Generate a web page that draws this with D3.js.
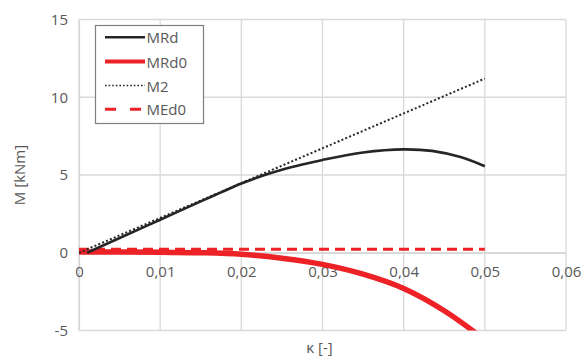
<!DOCTYPE html>
<html>
<head>
<meta charset="utf-8">
<script src="https://cdn.jsdelivr.net/npm/d3@7"></script>
<style>
  html, body { margin: 0; padding: 0; background: #fff; }
  svg { display: block; font-family: "Open Sans", "DejaVu Sans", sans-serif; }
</style>
</head>
<body>
<svg id="chart" width="584" height="359"></svg>
<script>
// Curvature values (κ) and moments (kNm) for each series
const kappaMRd = [0.001, 0.005, 0.01, 0.015, 0.0175, 0.02, 0.0225, 0.025, 0.0275, 0.03, 0.035, 0.04, 0.0435, 0.047, 0.05];
const valuesMRd = [0, 0.95, 2.12, 3.3, 3.88, 4.45, 4.93, 5.33, 5.67, 5.97, 6.45, 6.65, 6.55, 6.15, 5.56];

const kappaMRd0 = [0, 0.005, 0.01, 0.015, 0.02, 0.025, 0.03, 0.035, 0.04, 0.045, 0.05];
const valuesMRd0 = [0.05, 0.05, 0.04, 0, -0.1, -0.35, -0.75, -1.38, -2.3, -3.73, -5.6];

const kappaM2 = [0, 0.05];
const valuesM2 = [0, 11.2];

const kappaMEd0 = [0, 0.05];
const valuesMEd0 = [0.22, 0.22];

const xTicks = [0, 0.01, 0.02, 0.03, 0.04, 0.05, 0.06];
const xTickLabels = ["0", "0,01", "0,02", "0,03", "0,04", "0,05", "0,06"];
const yTicks = [-5, 0, 5, 10, 15];

const seriesNames = ["MRd", "MRd0", "M2", "MEd0"];

const svg = d3.select("#chart");
const plotLeft = 79, plotRight = 566, plotTop = 19.5, plotBottom = 330.5;

const x = d3.scaleLinear().domain([0, 0.06]).range([plotLeft, plotRight]);
const y = d3.scaleLinear().domain([-5, 15]).range([plotBottom, plotTop]);

const grid = "#d9d9d9";
const textCol = "#595959";
const red = "#ec2227";
const black = "#262626";
const fontSize = "15px";

// Gridlines
svg.append("g").selectAll("line").data(yTicks).join("line")
  .attr("x1", plotLeft).attr("x2", plotRight)
  .attr("y1", d => y(d)).attr("y2", d => y(d))
  .attr("stroke", grid).attr("stroke-width", 1.3);
svg.append("g").selectAll("line").data(xTicks).join("line")
  .attr("x1", d => x(d)).attr("x2", d => x(d))
  .attr("y1", plotTop).attr("y2", plotBottom)
  .attr("stroke", grid).attr("stroke-width", 1.3);

// Y axis labels
const yAxis = d3.axisLeft(y).tickValues(yTicks).tickSize(0).tickPadding(11)
  .tickFormat(d => d < 0 ? "-" + Math.abs(d) : String(d));
const gy = svg.append("g").attr("transform", `translate(${plotLeft},0)`).call(yAxis);
gy.select(".domain").attr("stroke", grid).attr("stroke-width", 1.3);
gy.selectAll("text").attr("fill", textCol).style("font-size", fontSize)
  .style("font-family", "'Open Sans', sans-serif");

// X axis labels placed under the zero line
const xAxis = d3.axisBottom(x).tickValues(xTicks).tickSize(0).tickPadding(14)
  .tickFormat((d, i) => xTickLabels[i]);
const gx = svg.append("g").attr("transform", `translate(0,${y(0)})`).call(xAxis);
gx.select(".domain").attr("stroke", grid).attr("stroke-width", 1.3);
gx.selectAll("text").attr("fill", textCol).style("font-size", fontSize)
  .style("font-family", "'Open Sans', sans-serif");

// Axis titles
svg.append("text")
  .attr("transform", `translate(19,${(plotTop + plotBottom) / 2}) rotate(-90)`)
  .attr("text-anchor", "middle").attr("dominant-baseline", "central")
  .attr("fill", textCol).style("font-size", fontSize).text("M [kNm]");
svg.append("text")
  .attr("x", (plotLeft + plotRight) / 2 - 3).attr("y", 353)
  .attr("text-anchor", "middle")
  .attr("fill", textCol).style("font-size", fontSize).text("κ [-]");

// Clip series to the plot area
svg.append("defs").append("clipPath").attr("id", "plotClip")
  .append("rect").attr("x", plotLeft).attr("y", plotTop)
  .attr("width", plotRight - plotLeft).attr("height", plotBottom - plotTop);

const plot = svg.append("g").attr("clip-path", "url(#plotClip)");

function toPoints(ks, vs) { return ks.map((k, i) => [k, vs[i]]); }
const line = d3.line().x(d => x(d[0])).y(d => y(d[1])).curve(d3.curveCatmullRom.alpha(0.5));

const styles = {
  MRd:  { color: black, width: 2.6, dash: null },
  MRd0: { color: red,   width: 5.5, dash: null },
  M2:   { color: black, width: 2,   dash: "2,2.2" },
  MEd0: { color: red,   width: 3,   dash: "10,6" }
};

plot.append("path").datum(toPoints(kappaMRd0, valuesMRd0))
  .attr("d", line).attr("fill", "none")
  .attr("stroke", styles.MRd0.color).attr("stroke-width", styles.MRd0.width);
plot.append("path").datum(toPoints(kappaMEd0, valuesMEd0))
  .attr("d", line).attr("fill", "none")
  .attr("stroke", styles.MEd0.color).attr("stroke-width", styles.MEd0.width)
  .attr("stroke-dasharray", styles.MEd0.dash);
plot.append("path").datum(toPoints(kappaM2, valuesM2))
  .attr("d", line).attr("fill", "none")
  .attr("stroke", styles.M2.color).attr("stroke-width", styles.M2.width)
  .attr("stroke-dasharray", styles.M2.dash);
plot.append("path").datum(toPoints(kappaMRd, valuesMRd))
  .attr("d", line).attr("fill", "none")
  .attr("stroke", styles.MRd.color).attr("stroke-width", styles.MRd.width);

// Legend
const lg = svg.append("g");
lg.append("rect").attr("x", 95.5).attr("y", 25.5).attr("width", 108).attr("height", 98)
  .attr("fill", "#fff").attr("stroke", "#7f7f7f").attr("stroke-width", 1.2);
const rowY = [37.3, 61.5, 85.5, 109.3];
seriesNames.forEach((name, i) => {
  const s = styles[name];
  lg.append("line").attr("x1", 105).attr("x2", 145)
    .attr("y1", rowY[i]).attr("y2", rowY[i])
    .attr("stroke", s.color)
    .attr("stroke-width", name === "MRd0" ? 4 : (name === "M2" ? 1.6 : s.width))
    .attr("stroke-dasharray", name === "MEd0" ? "11,14" : (name === "M2" ? "1.6,2" : null));
  lg.append("text").attr("x", 146.5).attr("y", rowY[i])
    .attr("dominant-baseline", "central")
    .attr("fill", textCol).style("font-size", fontSize).text(name);
});
</script>
</body>
</html>
